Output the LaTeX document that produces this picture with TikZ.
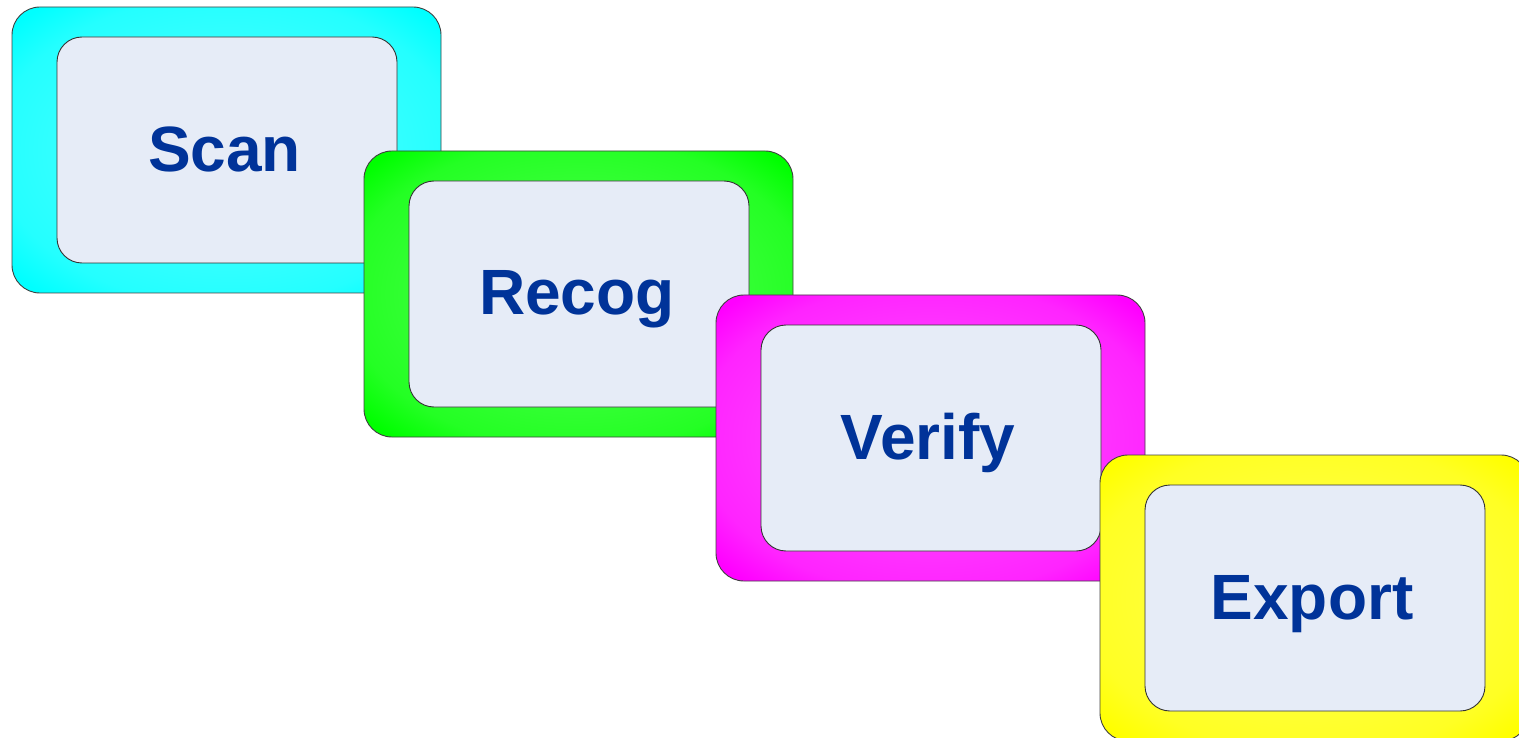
\documentclass[tikz,border=0pt]{standalone}
\usepackage{fontspec}
\setmainfont{Liberation Sans}
\definecolor{innerfill}{HTML}{E6ECF7}
\definecolor{txtblue}{HTML}{003399}
\definecolor{cCyan}{HTML}{00FFFF}
\definecolor{cGreen}{HTML}{00FF00}
\definecolor{cMag}{HTML}{FF00FF}
\definecolor{cYel}{HTML}{FFFF00}
\pgfdeclareradialshading{glowcyan}{\pgfpoint{0bp}{0bp}}{color(0bp)=(cCyan!65!white); color(27bp)=(cCyan!86!white); color(33bp)=(cCyan); color(50bp)=(cCyan)}
\pgfdeclareradialshading{glowgreen}{\pgfpoint{0bp}{0bp}}{color(0bp)=(cGreen!65!white); color(27bp)=(cGreen!86!white); color(33bp)=(cGreen); color(50bp)=(cGreen)}
\pgfdeclareradialshading{glowmag}{\pgfpoint{0bp}{0bp}}{color(0bp)=(cMag!65!white); color(27bp)=(cMag!86!white); color(33bp)=(cMag); color(50bp)=(cMag)}
\pgfdeclareradialshading{glowyel}{\pgfpoint{0bp}{0bp}}{color(0bp)=(cYel!65!white); color(27bp)=(cYel!86!white); color(33bp)=(cYel); color(50bp)=(cYel)}
\tikzset{
  outerbox/.style={draw=black!75, line width=0.9pt, rounded corners=28pt,
    minimum width=429pt, minimum height=286pt, inner sep=0pt, outer sep=0pt},
  innerbox/.style={draw=black!80, line width=0.9pt, fill=innerfill, rounded corners=25pt,
    minimum width=340pt, minimum height=226pt, inner sep=0pt, outer sep=0pt},
  lbl/.style={text=txtblue, font=\fontsize{64}{68}\selectfont\bfseries, inner sep=0pt, anchor=base}
}
\begin{document}
\begin{tikzpicture}[x=1pt,y=-1pt]
\useasboundingbox (0,0) rectangle (1519,738);
\clip (0,0) rectangle (1519,738);
\node[outerbox, shading=glowcyan] (o1) at (226.5,150) {};
\node[innerbox] (i1) at (227,150) {};
\node[lbl] (t1) at (224.5,172) {Scan};
\node[outerbox, shading=glowgreen] (o2) at (578.5,294) {};
\node[innerbox] (i2) at (579,294) {};
\node[lbl] (t2) at (577,315) {Recog};
\node[outerbox, shading=glowmag] (o3) at (930.5,438) {};
\node[innerbox] (i3) at (931,438) {};
\node[lbl] (t3) at (928,459) {Verify};
\node[outerbox, shading=glowyel] (o4) at (1314.5,598) {};
\node[innerbox] (i4) at (1315,598) {};
\node[lbl] (t4) at (1312,619) {Export};
\end{tikzpicture}
\end{document}
